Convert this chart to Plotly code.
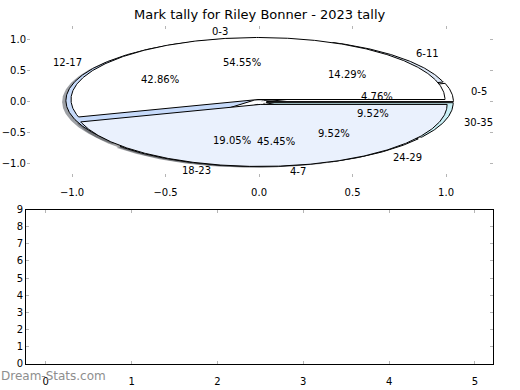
import numpy as np
import plotly.graph_objects as go

# ---------------- data ----------------
title_text = "Mark tally for Riley Bonner - 2023 tally"
outer_labels = ["0-3", "4-7"]
outer_counts = [6, 5]
inner_labels = ["0-5", "6-11", "12-17", "18-23", "24-29", "30-35"]
inner_counts = [1, 3, 9, 4, 2, 2]
top_x_ticks = [-1.0, -0.5, 0.0, 0.5, 1.0]
top_y_ticks = [-1.0, -0.5, 0.0, 0.5, 1.0]
bottom_x_ticks = [0, 1, 2, 3, 4, 5]
bottom_y_ticks = [0, 1, 2, 3, 4, 5, 6, 7, 8, 9]
watermark = "Dream-Stats.com"

# ---------------- styles ----------------
outer_colors = ["#ffffff", "#eaf1fd"]
inner_colors = ["#ffffff", "#dce7f7", "#c6dafa", "#d6e4fb", "#d7eaf6", "#c9f0f6"]
FONT = "DejaVu Sans"
W, H = 520, 390
INNER_EXPLODE = 0.04
OUTER_EXPLODE = 0.04
LABEL_DIST = 1.1
PCT_DIST = 0.6
SHADOW_OFF = (-0.02, -0.02)


def shade(hexcol):
    h = hexcol.lstrip("#")
    r, g, b = (int(h[i:i + 2], 16) for i in (0, 2, 4))
    return "rgba(%d,%d,%d,0.5)" % (int(r * 0.3), int(g * 0.3), int(b * 0.3))


def wedge_geom(counts, explode):
    total = float(sum(counts))
    geoms = []
    start = 0.0
    for c in counts:
        frac = c / total
        t1, t2 = start * 360.0, (start + frac) * 360.0
        mid = np.deg2rad((t1 + t2) / 2.0)
        cx, cy = explode * np.cos(mid), explode * np.sin(mid)
        geoms.append(dict(t1=t1, t2=t2, mid=mid, cx=cx, cy=cy, frac=frac))
        start += frac
    return geoms


def path(g, dx=0.0, dy=0.0, r=1.0):
    n = max(int(abs(g["t2"] - g["t1"]) * 2) + 2, 4)
    th = np.deg2rad(np.linspace(g["t1"], g["t2"], n))
    xs = np.concatenate([[g["cx"]], g["cx"] + r * np.cos(th), [g["cx"]]]) + dx
    ys = np.concatenate([[g["cy"]], g["cy"] + r * np.sin(th), [g["cy"]]]) + dy
    return xs, ys


fig = go.Figure()

inner_geo = wedge_geom(inner_counts, INNER_EXPLODE)
outer_geo = wedge_geom(outer_counts, OUTER_EXPLODE)

# shadows
for geos, cols in ((inner_geo, inner_colors), (outer_geo, outer_colors)):
    for g, col in zip(geos, cols):
        xs, ys = path(g, *SHADOW_OFF)
        fig.add_trace(go.Scatter(x=xs, y=ys, mode="lines", fill="toself",
                                 fillcolor=shade(col), line=dict(width=0),
                                 hoverinfo="skip", showlegend=False,
                                 xaxis="x", yaxis="y"))

# wedges: inner pie first, outer pie on top
for geos, cols in ((inner_geo, inner_colors), (outer_geo, outer_colors)):
    for g, col in zip(geos, cols):
        xs, ys = path(g)
        fig.add_trace(go.Scatter(x=xs, y=ys, mode="lines", fill="toself",
                                 fillcolor=col, line=dict(color="black", width=1),
                                 hoverinfo="skip", showlegend=False,
                                 xaxis="x", yaxis="y"))

annotations = []
for geos, labels in ((inner_geo, inner_labels), (outer_geo, outer_labels)):
    for g, lab in zip(geos, labels):
        xt = g["cx"] + LABEL_DIST * np.cos(g["mid"])
        yt = g["cy"] + LABEL_DIST * np.sin(g["mid"])
        annotations.append(dict(x=xt, y=yt, xref="x", yref="y", text=lab,
                                showarrow=False, xanchor="left" if xt > 0 else "right",
                                yanchor="middle", borderpad=0,
                                font=dict(family=FONT, size=10, color="black")))
        xp = g["cx"] + PCT_DIST * np.cos(g["mid"])
        yp = g["cy"] + PCT_DIST * np.sin(g["mid"])
        annotations.append(dict(x=xp, y=yp, xref="x", yref="y",
                                text="%.2f%%" % (g["frac"] * 100),
                                showarrow=False, xanchor="center", yanchor="middle",
                                borderpad=0,
                                font=dict(family=FONT, size=10, color="black")))

# empty bottom panel (keeps its axes)
fig.add_trace(go.Scatter(x=[], y=[], mode="markers", showlegend=False,
                         xaxis="x2", yaxis="y2"))

annotations.append(dict(x=0.5, y=(H - 9) / H, xref="paper", yref="paper",
                        text=title_text, showarrow=False, xanchor="center",
                        yanchor="middle", borderpad=0,
                        font=dict(family=FONT, size=13, color="black")))
annotations.append(dict(x=0.0, y=(H - 382) / H, xref="paper", yref="paper",
                        text=watermark, showarrow=False, xanchor="left",
                        yanchor="middle", borderpad=0,
                        font=dict(family=FONT, size=12, color="#8e8e8e")))

tick_font = dict(family=FONT, size=10, color="black")
common_tick = dict(ticks="inside", ticklen=3, tickwidth=1, tickcolor="#b5b5b5",
                   showgrid=False, zeroline=False, tickfont=tick_font)


def fmt(v):
    s = "%.1f" % abs(v)
    return ("\u2212" + s) if v < 0 else s


fig.update_layout(
    width=W, height=H, margin=dict(l=0, r=0, t=0, b=0),
    paper_bgcolor="white", plot_bgcolor="white",
    annotations=annotations,
    xaxis=dict(domain=[27 / W, 493 / W], range=[-1.241, 1.251], anchor="y",
               tickvals=top_x_ticks, ticktext=[fmt(v) for v in top_x_ticks],
               showline=False, mirror="ticks", ticklabelstandoff=8, **common_tick),
    yaxis=dict(domain=[(H - 176) / H, (H - 21) / H], range=[-1.203, 1.219], anchor="x",
               tickvals=top_y_ticks, ticktext=[fmt(v) for v in top_y_ticks],
               showline=False, mirror="ticks", **common_tick),
    xaxis2=dict(domain=[26 / W, 493 / W], range=[-0.23, 5.21], anchor="y2",
                tickvals=bottom_x_ticks, ticktext=[str(v) for v in bottom_x_ticks],
                showline=True, linecolor="black", linewidth=1, mirror="ticks",
                ticklabelstandoff=8, **common_tick),
    yaxis2=dict(domain=[(H - 369) / H, (H - 210) / H], range=[0, 9], anchor="x2",
                tickvals=bottom_y_ticks, ticktext=[str(v) for v in bottom_y_ticks],
                showline=True, linecolor="black", linewidth=1, mirror="ticks",
                **common_tick),
)

fig.write_html("out.html", config={"displayModeBar": False},
               post_script="document.body.style.margin='0';document.body.style.padding='0';document.body.style.overflow='hidden';")
